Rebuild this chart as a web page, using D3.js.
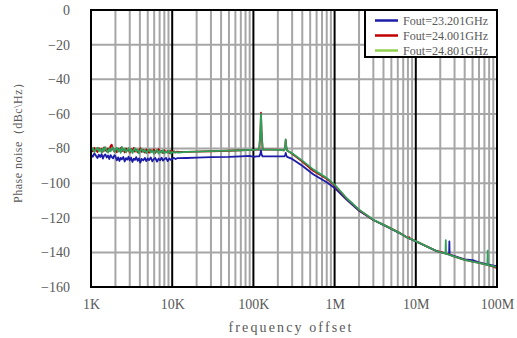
<!DOCTYPE html>
<html>
<head>
<meta charset="utf-8">
<script src="https://cdn.jsdelivr.net/npm/d3@7"></script>
<style>
  body { margin: 0; background: #fff; }
  text { font-family: "Liberation Serif", "DejaVu Serif", serif; fill: #595959; }
</style>
</head>
<body>
<svg id="chart" width="517" height="338"></svg>
<script>
// offset frequencies (Hz), shared by all three traces
const freqs = [
  1000, 1050, 1100, 1150, 1200, 1250, 1300, 1350, 1400, 1450,
  1500, 1560, 1620, 1680, 1740, 1800, 1870, 1940, 2000, 2080,
  2160, 2240, 2320, 2400, 2500, 2600, 2700, 2800, 2900, 3000,
  3120, 3240, 3360, 3480, 3600, 3750, 3900, 4050, 4200, 4400,
  4600, 4800, 5000, 5200, 5450, 5700, 5950, 6200, 6500, 6800,
  7100, 7400, 7700, 8000, 8400, 8800, 9200, 9600, 10000, 10500,
  11000, 11500, 12000,
  15e3, 20e3, 30e3, 50e3, 70e3, 90e3, 100e3, 110e3, 118e3,
  122e3, 124e3, 126e3, 130e3, 150e3, 200e3, 240e3, 246e3, 250e3, 254e3,
  260e3, 300e3, 400e3, 550e3, 800e3, 1e6, 1.4e6, 2e6, 3e6, 4.4e6,
  6.4e6, 8.1e6, 8.3e6, 8.5e6, 10e6, 13.6e6, 18e6, 23.2e6, 23.4e6, 23.6e6,
  25.7e6, 25.9e6, 26.1e6, 30e6, 40e6, 50e6, 60e6, 76e6, 76.8e6, 77.6e6,
  90e6, 100e6
];

// phase noise, dBc/Hz
const blueDbc = [
  -83.5, -84.8, -82.8, -84.2, -85.5, -83.6, -84.9, -83.2, -85.8, -84.1,
  -83.4, -85.2, -84.0, -86.1, -83.8, -84.9, -85.7, -83.9, -84.6, -86.8,
  -85.1, -87.2, -85.4, -86.3, -84.9, -87.5, -85.6, -86.4, -84.8, -86.9,
  -85.3, -87.8, -85.9, -86.6, -85.0, -87.1, -85.7, -88.2, -86.0, -86.9,
  -85.4, -87.3, -85.8, -86.7, -85.2, -87.4, -86.1, -85.5, -87.6, -85.9,
  -86.8, -85.3, -87.0, -86.2, -85.4, -87.3, -85.8, -86.6, -86.0, -85.4,
  -86.1, -85.6, -85.6,
  -85.5, -85.3, -85, -84.8, -84.5, -84.3, -84.8, -84.6, -84.6,
  -83, -81, -83.5, -84.6, -84.5, -84.5, -84.5, -84, -82.5, -84,
  -84.8, -86, -90, -95, -99.5, -102.8, -109.5, -116, -121.3, -125.2,
  -129, -131.8, -132, -132.1, -133.7, -136.6, -139.3, -140.6, -140.7, -140.8,
  -141.2, -133.7, -141.3, -142.2, -144, -144.5, -145.8, -146.9, -147, -147,
  -147.6, -148
];

const redDbc = [
  -80.2, -81.6, -79.6, -80.9, -82.0, -79.8, -81.2, -80.1, -81.9, -79.4,
  -80.8, -81.7, -79.9, -81.3, -78.6, -77.8, -80.6, -81.8, -80.3, -82.1,
  -80.0, -81.4, -79.7, -81.6, -80.4, -82.3, -79.9, -81.2, -80.6, -82.4,
  -80.2, -81.5, -79.6, -81.8, -80.7, -82.2, -81.0, -79.8, -81.9, -80.8,
  -82.3, -80.5, -81.6, -82.4, -80.9, -81.8, -80.4, -82.5, -81.2, -80.3,
  -82.1, -81.4, -82.6, -81.0, -82.2, -81.5, -82.6, -81.3, -82.0, -81.6,
  -82.3, -81.8, -82.0,
  -82, -81.8, -81.6, -81.3, -81, -80.8, -80.8, -80.7, -80.7,
  -70, -59.3, -70, -80.7, -80.6, -80.6, -81, -79, -75, -79,
  -81.2, -83, -87.5, -93, -97.5, -101.3, -108.8, -115.5, -121.3, -125,
  -128.9, -131.8, -131.2, -132.1, -133.5, -136.5, -139.2, -140.6, -140.6, -140.7,
  -141.2, -141.3, -141.3, -142.5, -144.3, -145.3, -146, -147.2, -147.3, -147.3,
  -148.2, -149.2
];

const greenDbc = [
  -81.2, -79.8, -82.0, -80.4, -79.5, -81.7, -80.2, -82.3, -80.0, -81.5,
  -79.2, -80.9, -82.4, -80.1, -81.6, -80.3, -79.4, -81.9, -80.7, -79.6,
  -81.8, -80.2, -82.5, -79.1, -81.3, -80.0, -82.2, -80.8, -79.7, -81.9,
  -80.4, -82.6, -81.0, -79.9, -81.7, -80.6, -82.8, -81.2, -80.1, -82.0,
  -80.9, -82.7, -81.4, -80.5, -82.3, -81.1, -83.0, -81.6, -80.8, -82.9,
  -81.3, -82.4, -81.0, -82.8, -81.7, -82.5, -81.2, -82.9, -82.0, -82.4,
  -81.9, -82.3, -82.3,
  -82, -81.8, -81.5, -81.2, -81, -80.8, -80.8, -80.7, -80.7,
  -70, -60, -70, -80.7, -80.6, -80.8, -81, -79, -74.8, -79,
  -81.2, -82.8, -87, -92.2, -97, -100.9, -108.6, -115.3, -121.2, -125,
  -128.9, -131.8, -132, -132.1, -133.5, -136.5, -139.2, -140.8, -133, -140.9,
  -141.3, -141.3, -141.4, -142.5, -144.3, -145.3, -146, -147.2, -139, -147.3,
  -148, -148.7
];

const seriesNames = ["Fout=23.201GHz", "Fout=24.001GHz", "Fout=24.801GHz"];
const xTickValues = [1e3, 1e4, 1e5, 1e6, 1e7, 1e8];
const xTickLabels = ["1K", "10K", "100K", "1M", "10M", "100M"];
const yTickValues = [0, -20, -40, -60, -80, -100, -120, -140, -160];

const plotL = 91, plotR = 497, plotT = 10, plotB = 287;

const svg = d3.select("#chart");

const x = d3.scaleLog().domain([1e3, 1e8]).range([plotL, plotR]);
const y = d3.scaleLinear().domain([-160, 0]).range([plotB, plotT]);

// minor vertical grid (2..9 in each decade)
const minor = [];
for (let d = 3; d < 8; d++) {
  for (let m = 2; m <= 9; m++) minor.push(m * Math.pow(10, d));
}

const grid = svg.append("g");
grid.selectAll(".vminor")
  .data(minor)
  .enter().append("line")
  .attr("x1", d => x(d)).attr("x2", d => x(d))
  .attr("y1", plotT).attr("y2", plotB)
  .attr("stroke", "#a6a6a6").attr("stroke-width", 2);

grid.selectAll(".hgrid")
  .data(yTickValues)
  .enter().append("line")
  .attr("x1", plotL).attr("x2", plotR)
  .attr("y1", d => y(d)).attr("y2", d => y(d))
  .attr("stroke", "#a6a6a6").attr("stroke-width", 2);

grid.selectAll(".vmajor")
  .data(xTickValues)
  .enter().append("line")
  .attr("x1", d => x(d)).attr("x2", d => x(d))
  .attr("y1", plotT).attr("y2", plotB)
  .attr("stroke", "#000").attr("stroke-width", 2);

// traces
svg.append("clipPath").attr("id", "clip")
  .append("rect").attr("x", plotL).attr("y", plotT)
  .attr("width", plotR - plotL).attr("height", plotB - plotT);

const line = d3.line()
  .x(d => x(d[0]))
  .y(d => y(d[1]));

const traces = [
  { values: blueDbc, color: "#1c1ca8" },
  { values: redDbc, color: "#c00000" },
  { values: greenDbc, color: "#2f9f5c" }
];

svg.append("g").attr("clip-path", "url(#clip)")
  .selectAll("path")
  .data(traces)
  .enter().append("path")
  .attr("d", t => line(freqs.map((f, i) => [f, t.values[i]])))
  .attr("fill", "none")
  .attr("stroke", t => t.color)
  .attr("stroke-width", 1.8)
  .attr("stroke-linejoin", "round");

// frame
svg.append("rect")
  .attr("x", plotL).attr("y", plotT)
  .attr("width", plotR - plotL).attr("height", plotB - plotT)
  .attr("fill", "none").attr("stroke", "#000").attr("stroke-width", 2);

// axes (labels only)
const xAxis = svg.append("g")
  .attr("transform", `translate(0,${plotB})`)
  .call(d3.axisBottom(x).tickValues(xTickValues)
    .tickFormat((d, i) => xTickLabels[i]).tickSize(0).tickPadding(12));
xAxis.select(".domain").remove();
xAxis.selectAll("text")
  .style("font-family", '"Liberation Serif", serif')
  .style("font-size", "14px").attr("fill", "#595959");

const yAxis = svg.append("g")
  .attr("transform", `translate(70,0)`)
  .call(d3.axisLeft(y).tickValues(yTickValues)
    .tickFormat(d => d < 0 ? "\u2212" + Math.abs(d) : d).tickSize(0).tickPadding(0));
yAxis.select(".domain").remove();
yAxis.selectAll("text")
  .style("font-family", '"Liberation Serif", serif')
  .style("font-size", "14px").attr("fill", "#595959");

// axis titles
svg.append("text")
  .attr("x", 290).attr("y", 332)
  .attr("text-anchor", "middle")
  .attr("textLength", 123).attr("lengthAdjust", "spacing")
  .style("font-size", "14px")
  .text("frequency offset");

svg.append("text")
  .attr("transform", "translate(22,140) rotate(-90)")
  .attr("text-anchor", "middle")
  .attr("textLength", 126).attr("lengthAdjust", "spacing")
  .style("font-size", "12px")
  .text("Phase noise（dBc\\Hz）");

// legend
const legendColors = ["#1c1ca8", "#c00000", "#92d050"];
const legend = svg.append("g");
legend.append("rect")
  .attr("x", 365).attr("y", 10).attr("width", 132).attr("height", 47)
  .attr("fill", "#fff").attr("stroke", "#000").attr("stroke-width", 2);

const rows = legend.selectAll(".row")
  .data(seriesNames)
  .enter().append("g")
  .attr("transform", (d, i) => `translate(0,${20.5 + i * 15})`);
rows.append("line")
  .attr("x1", 375).attr("x2", 398)
  .attr("stroke", (d, i) => legendColors[i]).attr("stroke-width", 2.5);
rows.append("text")
  .attr("x", 403).attr("y", 4)
  .attr("textLength", 85).attr("lengthAdjust", "spacingAndGlyphs")
  .style("font-size", "12px")
  .text(d => d);
</script>
</body>
</html>
